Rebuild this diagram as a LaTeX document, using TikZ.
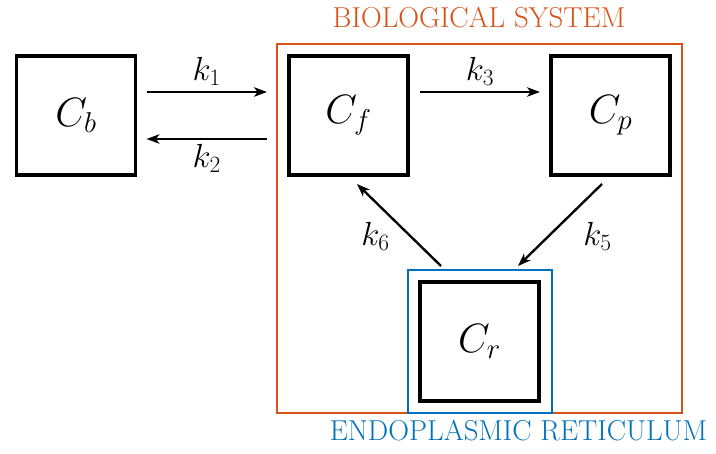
\RequirePackage{fix-cm}
\documentclass[tikz,border=0pt]{standalone}
\usepackage{amsmath}
\usepackage{tikz}
\usetikzlibrary{arrows.meta}
\usetikzlibrary{calc}

\definecolor{sysorange}{rgb}{0.85,0.325,0.098}
\definecolor{erblue}{rgb}{0,0.447,0.741}

\begin{document}
\begin{tikzpicture}[x=0.03cm,y=-0.03cm,
	comp/.style={draw,line width=2.6pt,minimum size=3.57cm,inner sep=0pt,outer sep=0pt,font=\fontsize{35}{40}\selectfont},
	flow/.style={-{Stealth[length=11pt,width=8pt,inset=3pt]},line width=2pt},
	rate/.style={font=\fontsize{28.5}{33}\selectfont},
	capt/.style={font=\fontsize{24.6}{29}\selectfont}]
	\useasboundingbox (0,0) rectangle (716,454);
	
	% Compartments
	\node[draw=sysorange,line width=2.4pt,minimum width=12.15cm,minimum height=11.07cm,inner sep=0pt,outer sep=0pt] (sys) at (479.5,228.5) {};
	\node[comp] (Cb) at (76,115.5) {$C_b$};
	\node[comp] (Cf) at (348.5,115.5) {$C_f$};
	\node[comp] (Cp) at (610.5,115.5) {$C_p$};
	\node[comp] (Cr) at (479.5,341.5) {$C_r$};
	\node[draw=erblue,line width=2.5pt,minimum width=4.32cm,minimum height=4.29cm,inner sep=0pt,outer sep=0pt] (er) at (480,341.5) {};
	
	% Titles
	\node[capt,text=sysorange] (systitle) at (479,18) {BIOLOGICAL SYSTEM};
	\node[capt,text=erblue] (ertitle) at (518.5,431) {ENDOPLASMIC RETICULUM};
	
	% Exchange between Cb and the system
	\draw[flow] ($(Cb.east)+(11,-23.5)$) -- ($(sys.west |- Cb.east)+(-10,-23.5)$) node[rate,midway,above=1pt] {$k_1$};
	\draw[flow] ($(sys.west |- Cb.east)+(-10,23.5)$) -- ($(Cb.east)+(11,23.5)$) node[rate,midway,below=0pt] {$k_2$};
	
	% Flows inside the system
	\draw[flow] ($(Cf.east)+(12,-23.5)$) -- ($(Cp.west)+(-11,-23.5)$) node[rate,midway,above=1pt] {$k_3$};
	\draw[flow] ($(Cp.south)+(-8.5,9)$) -- ($(er.north)+(38,-4)$) node[rate,midway,xshift=32pt,yshift=-10pt] {$k_5$};
	\draw[flow] ($(er.north)+(-39,-4)$) -- ($(Cf.south)+(8.5,9)$) node[rate,midway,xshift=-20pt,yshift=-10pt] {$k_6$};
	
\end{tikzpicture}
\end{document}
